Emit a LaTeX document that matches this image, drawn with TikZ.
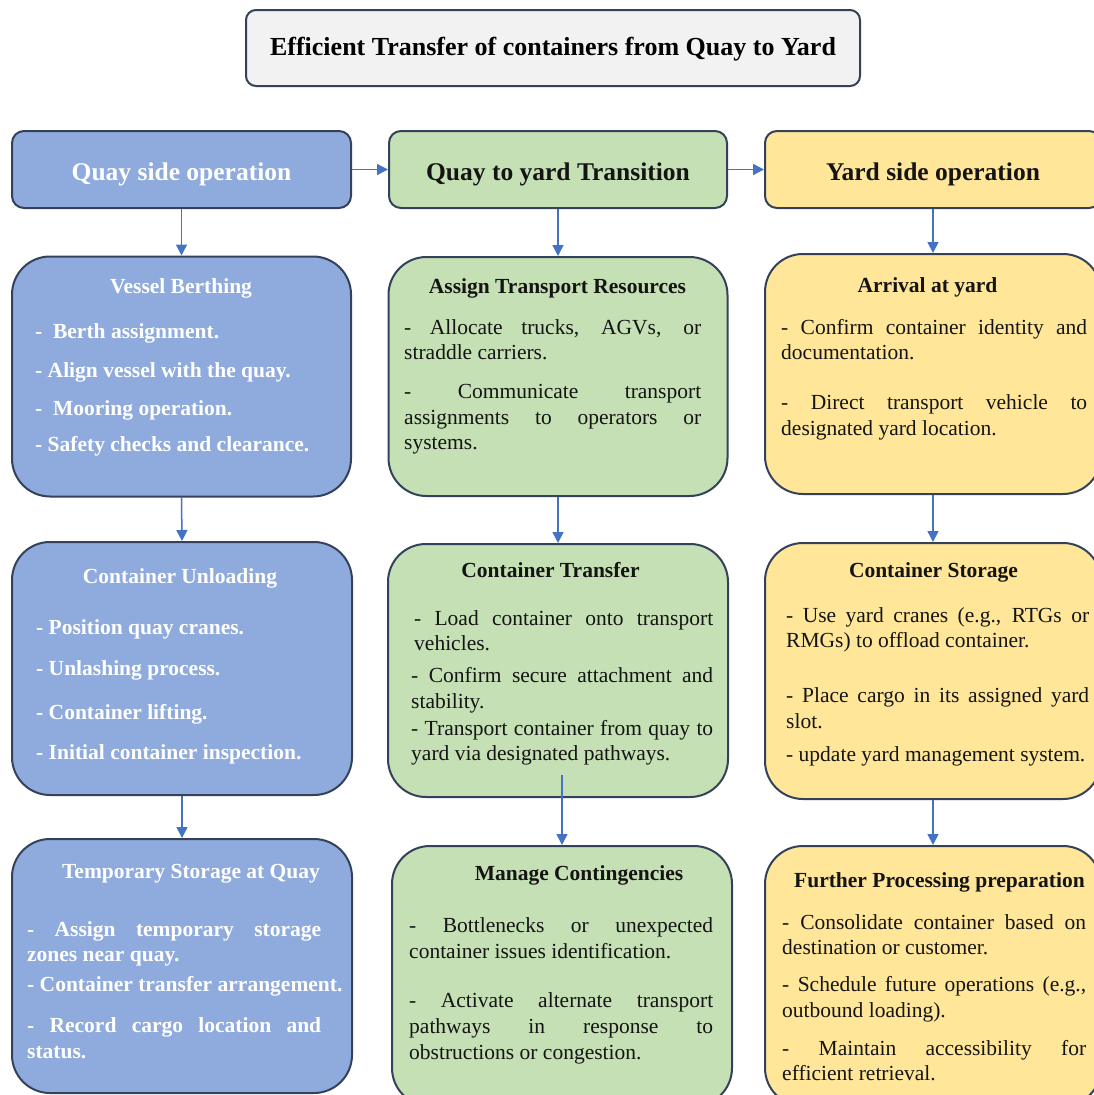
\documentclass[tikz,border=0pt]{standalone}
\usepackage{fontspec}
\setmainfont{Liberation Serif}
\usetikzlibrary{arrows.meta}

\definecolor{edge}{HTML}{33425A}
\definecolor{qblue}{HTML}{8FAADC}
\definecolor{tgreen}{HTML}{C5E0B4}
\definecolor{yyellow}{HTML}{FFE699}
\definecolor{tgray}{HTML}{F2F2F2}
\definecolor{link}{HTML}{4472C4}
\definecolor{ink}{HTML}{141414}

\hyphenpenalty=10000
\exhyphenpenalty=10000
\tolerance=10000
\hbadness=10000
\hfuzz=60pt
\setlength{\parindent}{0pt}
\setlength{\parskip}{0pt}

\tikzset{
  panel/.style={draw=edge, line width=2pt, rectangle, inner sep=0pt},
  head/.style={panel, rounded corners=12pt, minimum height=77pt,
    font=\bfseries\fontsize{25.5}{30}\selectfont, text height=22pt, text depth=0pt},
  card/.style={panel, rounded corners=38pt},
  cardtitle/.style={anchor=base, inner sep=0pt, font=\bfseries\fontsize{21.5}{25}\selectfont},
  body/.style={anchor=north west, inner sep=0pt, align=justify, text=ink,
    font=\fontsize{21.5}{25.5}\selectfont},
  boldbody/.style={body, text=white, font=\bfseries\fontsize{21.5}{25.5}\selectfont},
  flow/.style={draw=link, line width=1.5pt, -{Triangle[width=11pt,length=11pt]}},
}

\begin{document}
\begin{tikzpicture}[x=1pt, y=-1pt]
\path[use as bounding box, fill=white] (0,0) rectangle (1094,1095);
\clip (0,0) rectangle (1094,1095);

% title
\node[panel, rounded corners=10pt, fill=tgray, minimum width=614pt, minimum height=76pt,
  font=\bfseries\fontsize{26}{30}\selectfont, text height=14pt, text depth=0pt]
  (ttl) at (553,48) {Efficient Transfer of containers from Quay to Yard};

% column headers
\node[head, fill=qblue, text=white, minimum width=339pt] (qside) at (181.5,169.5) {Quay side operation};
\node[head, fill=tgreen, text=ink, minimum width=338pt] (qyard) at (558,169.5) {Quay to yard Transition};
\node[head, fill=yyellow, text=ink, minimum width=336pt] (yside) at (933,169.5) {Yard side operation};

% quay side cards
\node[card, fill=qblue, minimum width=339pt, minimum height=240pt] (vb) at (181.5,376.5) {};
\node[card, fill=qblue, minimum width=340pt, minimum height=253pt] (cu) at (182,668.5) {};
\node[card, fill=qblue, minimum width=340pt, minimum height=254pt] (ts) at (182,966) {};

% transition cards
\node[card, fill=tgreen, minimum width=339pt, minimum height=239pt] (at) at (558,376.5) {};
\node[card, fill=tgreen, minimum width=340pt, minimum height=253pt] (ct) at (558,670.5) {};
\node[card, fill=tgreen, minimum width=340pt, minimum height=260pt] (mc) at (562,976) {};

% yard side cards
\node[card, fill=yyellow, minimum width=336pt, minimum height=240pt] (ay) at (933,374) {};
\node[card, fill=yyellow, minimum width=336pt, minimum height=256pt] (cs) at (933,671) {};
\node[card, fill=yyellow, minimum width=336pt, minimum height=260pt] (fp) at (933,976) {};

% card titles
\node[cardtitle, text=white] (vbT) at (181,293) {Vessel Berthing};
\node[cardtitle, text=white] (cuT) at (180,583) {Container Unloading};
\node[cardtitle, text=white] (tsT) at (191,878) {Temporary Storage at Quay};
\node[cardtitle, text=ink] (atT) at (557.5,293) {Assign Transport Resources};
\node[cardtitle, text=ink] (ctT) at (550.5,577) {Container Transfer};
\node[cardtitle, text=ink] (mcT) at (579,880) {Manage Contingencies};
\node[cardtitle, text=ink] (ayT) at (927.5,292) {Arrival at yard};
\node[cardtitle, text=ink] (csT) at (933.5,577) {Container Storage};
\node[cardtitle, text=ink] (fpT) at (939.5,887) {Further Processing preparation};

% card bodies
\node[boldbody, text width=316pt] (vbB) at (35,323) {%
-\ \ Berth assignment.\par\vspace{13.5pt}
- Align vessel with the quay.\par\vspace{12.5pt}
-\ \ Mooring operation.\par\vspace{10.5pt}
- Safety checks and clearance.};

\node[boldbody, text width=310pt] (cuB) at (36,619) {%
- Position quay cranes.\par\vspace{15.5pt}
- Unlashing process.\par\vspace{18.5pt}
- Container lifting.\par\vspace{14.5pt}
- Initial container inspection.};

\node[boldbody, text width=294pt] (tsB) at (27,921) {%
- Assign temporary storage\linebreak zones near quay.\par\vspace{4.5pt}
\mbox{- Container transfer arrangement.}\par\vspace{15.5pt}
- Record cargo location and\linebreak status.};

\node[body, text width=297pt] (atB) at (404,319) {%
- Allocate trucks, AGVs, or\linebreak straddle carriers.\par\vspace{13.5pt}
- Communicate transport\linebreak assignments to operators or\linebreak systems.};

\node[body, text width=302pt] (ctB) at (411,610) {%
\hspace*{3pt}- Load container onto transport\linebreak \hspace*{3pt}vehicles.\par\vspace{6.5pt}
- Confirm secure attachment and\linebreak stability.\par\vspace{1.5pt}
- Transport container from quay to\linebreak yard via designated pathways.};

\node[body, text width=304pt, font=\fontsize{21.5}{26}\selectfont] (mcB) at (409,917) {%
- Bottlenecks or unexpected\linebreak container issues identification.\par\vspace{23pt}
- Activate alternate transport\linebreak pathways in response to\linebreak obstructions or congestion.};

\node[body, text width=306pt] (ayB) at (781,319) {%
- Confirm container identity and\linebreak documentation.\par\vspace{24.5pt}
- Direct transport vehicle to\linebreak designated yard location.};

\node[body, text width=303pt] (csB) at (786,607) {%
- Use yard cranes (e.g., RTGs or\linebreak RMGs) to offload container.\par\vspace{29.5pt}
- Place cargo in its assigned yard\linebreak slot.\par\vspace{7.5pt}
- update yard management system.};

\node[body, text width=304pt] (fpB) at (782,914) {%
- Consolidate container based on\linebreak destination or customer.\par\vspace{11.5pt}
- Schedule future operations (e.g.,\linebreak outbound loading).\par\vspace{12.5pt}
- Maintain accessibility for\linebreak efficient retrieval.};

% connectors
\draw[flow] (qside.east) -- (qyard.west);
\draw[flow] (qyard.east) -- (yside.west);

\draw[flow] (qside.south) -- (vb.north);
\draw[flow] (vb.south) -- (cu.north);
\draw[flow] (cu.south) -- (ts.north);

\draw[flow] (qyard.south) -- (at.north);
\draw[flow] (at.south) -- (ct.north);
\coordinate (ctout) at (562,775);
\draw[flow] (ctout) -- (mc.north);

\draw[flow] (yside.south) -- (ay.north);
\draw[flow] (ay.south) -- (cs.north);
\draw[flow] (cs.south) -- (fp.north);
\end{tikzpicture}
\end{document}
